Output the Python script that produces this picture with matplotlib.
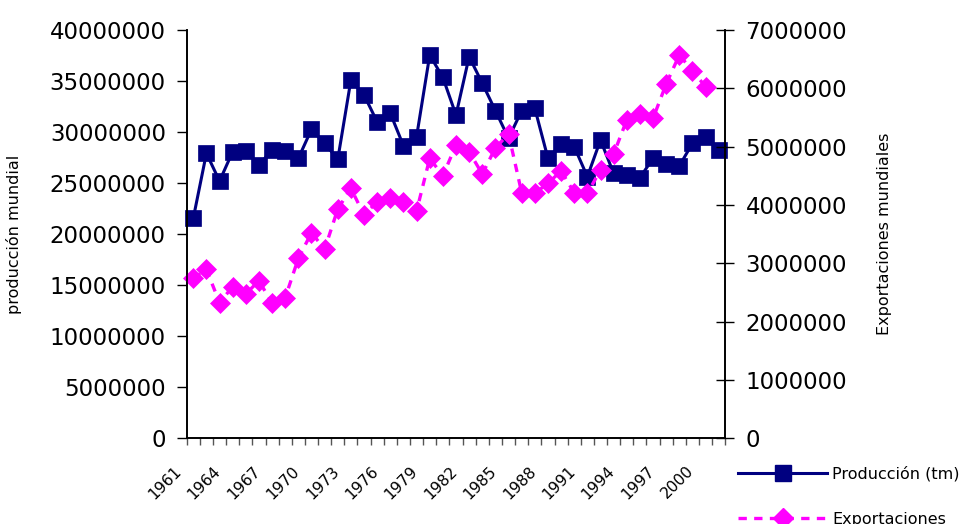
import matplotlib
matplotlib.use("Agg")
import matplotlib.pyplot as plt
from matplotlib.lines import Line2D
import matplotlib.transforms as mtransforms
import numpy as np

years = list(range(1961, 2002))
produccion = [21.55e6, 27.92e6, 25.2e6, 28.08e6, 28.15e6, 26.77e6, 28.24e6, 28.18e6,
              27.43e6, 30.27e6, 28.9e6, 27.33e6, 35.1e6, 33.63e6, 31.0e6, 31.84e6,
              28.66e6, 29.55e6, 37.55e6, 35.35e6, 31.67e6, 37.39e6, 34.78e6, 32.1e6,
              29.39e6, 32.1e6, 32.33e6, 27.43e6, 28.8e6, 28.57e6, 25.63e6, 29.22e6,
              25.96e6, 25.8e6, 25.53e6, 27.43e6, 26.84e6, 26.68e6, 28.9e6, 29.55e6,
              28.24e6]
exportaciones = [2.743e6, 2.897e6, 2.325e6, 2.6e6, 2.474e6, 2.702e6, 2.314e6, 2.41e6,
                 3.086e6, 3.525e6, 3.24e6, 3.93e6, 4.286e6, 3.828e6, 4.056e6, 4.125e6,
                 4.056e6, 3.897e6, 4.8e6, 4.5e6, 5.03e6, 4.914e6, 4.53e6, 4.98e6,
                 5.217e6, 4.21e6, 4.2e6, 4.372e6, 4.583e6, 4.21e6, 4.2e6, 4.6e6,
                 4.874e6, 5.457e6, 5.555e6, 5.486e6, 6.074e6, 6.571e6, 6.3e6, 6.028e6]
label_years = list(range(1961, 2001, 3))

navy = "#000080"
pink = "#FF00FF"

fig = plt.figure(figsize=(9.66, 5.24), dpi=100)
ax = fig.add_axes([186.7/966, 85.7/524, 538.6/966, 408.3/524])
ax2 = ax.twinx()

x = np.arange(len(years))
ax.plot(x[:len(produccion)], produccion, color=navy, lw=2.2, marker='s', ms=12,
        mfc=navy, mec=navy, mew=0.5, label="Producción (tm)", clip_on=False)
xe = x[:len(exportaciones)]
ax2.plot(xe, exportaciones, color=pink, lw=2.4, ls=(0, (2.5, 2.2)), marker='D', ms=10.5,
         mfc=pink, mec=pink, mew=0.5, label="Exportaciones", clip_on=False)

ax.set_xlim(-0.5, len(years) - 0.5)
ax.set_ylim(0, 40000000)
ax2.set_ylim(0, 7000000)
ax.set_yticks(np.arange(0, 40000001, 5000000))
ax.set_yticklabels([f"{int(v)}" for v in np.arange(0, 40000001, 5000000)])
ax2.set_yticks(np.arange(0, 7000001, 1000000))
ax2.set_yticklabels([f"{int(v)}" for v in np.arange(0, 7000001, 1000000)])

# category boundary ticks
ax.set_xticks(np.arange(-0.5, len(years), 1.0))
ax.set_xticklabels([])
ax.tick_params(axis='x', which='major', direction='out', length=5, width=1, color='#555555')
lab_pos = [years.index(y) for y in label_years]
ax.set_xticks(lab_pos, minor=True)
ax.set_xticklabels([str(y) for y in label_years], minor=True, rotation=45,
                   ha='right', va='top', fontsize=11.2)
ax.tick_params(axis='x', which='minor', length=0, pad=18)
offset = mtransforms.ScaledTranslation(-9/100, 0, fig.dpi_scale_trans)
for lbl in ax.xaxis.get_minorticklabels():
    lbl.set_transform(lbl.get_transform() + offset)

ax.tick_params(axis='y', direction='out', length=7, width=1, labelsize=16.5, pad=8)
ax2.tick_params(axis='y', direction='inout', length=13, width=1, labelsize=16.5, pad=8)

for a in (ax, ax2):
    a.spines['top'].set_visible(False)
    for s in ('left', 'bottom', 'right'):
        a.spines[s].set_linewidth(1.2)
        a.spines[s].set_color('black')

ax.set_ylabel("producción mundial", fontsize=11.5)
ax.yaxis.set_label_coords(-186.7/538.6 + 22/538.6, 0.5)
ax2.set_ylabel("Exportaciones mundiales", fontsize=11.5, rotation=90)
ax2.yaxis.set_label_coords((877-186.7)/538.6, 0.5)

handles = [
    Line2D([0], [0], color=navy, lw=2.2, marker='s', ms=11, mfc=navy, mec=navy),
    Line2D([0], [0], color=pink, lw=2.4, ls=(0, (2.5, 2.2)), marker='D', ms=10, mfc=pink, mec=pink),
]
fig.legend(handles, ["Producción (tm)", "Exportaciones"], loc='upper left',
           bbox_to_anchor=(738/966, 1 - 466/524), frameon=False, fontsize=11.5,
           handlelength=5.6, handletextpad=0.3, labelspacing=1.9, borderpad=0,
           borderaxespad=0)

fig.savefig("out.png", dpi=100)
